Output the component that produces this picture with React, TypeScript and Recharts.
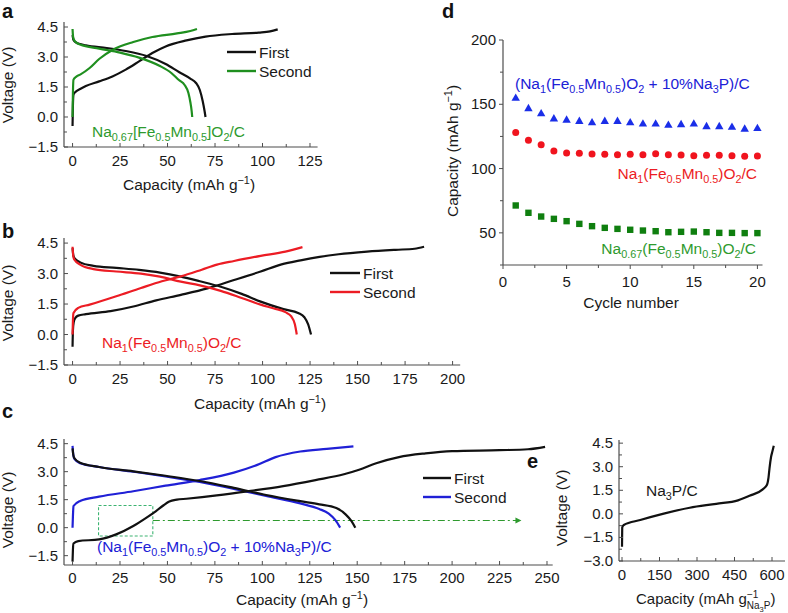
import React from 'react';
import { LineChart, Line, XAxis, YAxis, ReferenceArea } from 'recharts';

type Pt = [number, number];

// ---------- Panel a : Na0.67[Fe0.5Mn0.5]O2/C ----------
const A_FIRST_CHARGE: Pt[] = [[0, -0.45], [0.2, 0.6], [0.5, 1.12], [1.5, 1.25], [4, 1.4], [7, 1.55], [14, 1.78], [21, 2.03], [28, 2.37], [35, 2.78], [42, 3.2], [49, 3.53], [60, 3.83], [70, 4.02], [84, 4.15], [98, 4.22], [104, 4.28], [108, 4.38]];
const A_FIRST_DISCHARGE: Pt[] = [[0, 4.1], [0.5, 3.85], [2, 3.72], [4, 3.65], [7, 3.58], [18, 3.45], [28, 3.3], [39, 3.05], [49, 2.65], [56, 2.25], [62, 1.92], [65, 1.7], [67, 1.35], [68.5, 0.8], [69.5, 0.3], [70, 0]];
const A_SECOND_CHARGE: Pt[] = [[0, 0], [0.2, 1.2], [0.5, 1.87], [2, 2.02], [4, 2.12], [9, 2.45], [14, 2.9], [21, 3.35], [32, 3.75], [42, 4.0], [55, 4.18], [62, 4.3], [65.5, 4.4]];
const A_SECOND_DISCHARGE: Pt[] = [[0, 4.4], [0.3, 4.0], [0.8, 3.85], [2, 3.72], [4, 3.62], [14, 3.42], [25, 3.22], [35, 2.97], [46, 2.55], [52, 2.2], [56, 1.85], [59, 1.6], [61, 1.2], [62, 0.75], [62.7, 0.3], [63, 0]];

// ---------- Panel b : Na1(Fe0.5Mn0.5)O2/C ----------
const B_FIRST_CHARGE: Pt[] = [[0, -0.6], [0.2, 0.2], [0.6, 0.6], [1.5, 0.82], [3, 0.93], [7, 1.0], [20, 1.15], [32, 1.38], [44, 1.68], [57, 1.95], [71, 2.27], [85, 2.68], [99, 3.1], [110, 3.45], [120, 3.65], [130, 3.82], [140, 3.95], [155, 4.08], [170, 4.17], [180, 4.22], [185, 4.32]];
const B_FIRST_DISCHARGE: Pt[] = [[0, 4.25], [0.4, 3.9], [1, 3.76], [4, 3.55], [11, 3.38], [23, 3.28], [35, 3.18], [46, 3.05], [57, 2.85], [67, 2.62], [78, 2.35], [89, 2.0], [99, 1.62], [111, 1.25], [119, 1.05], [122, 0.85], [124, 0.5], [125.5, 0]];
const B_SECOND_CHARGE: Pt[] = [[0, 0], [0.2, 0.7], [0.5, 1.06], [3, 1.31], [9, 1.47], [23, 1.88], [36, 2.29], [47, 2.62], [57, 2.86], [68, 3.19], [76, 3.44], [85, 3.62], [99, 3.87], [112, 4.08], [121, 4.3]];
const B_SECOND_DISCHARGE: Pt[] = [[0, 4.32], [0.4, 3.85], [1, 3.68], [4, 3.44], [11, 3.22], [23, 3.1], [36, 3.0], [46, 2.85], [57, 2.6], [67, 2.42], [78, 2.15], [89, 1.8], [99, 1.47], [106, 1.28], [112, 1.1], [115, 0.9], [117, 0.5], [118, 0]];

// ---------- Panel c : (Na1(Fe0.5Mn0.5)O2 + 10%Na3P)/C ----------
const C_FIRST_CHARGE: Pt[] = [[0, -1.82], [0.2, -1.2], [0.5, -0.85], [3, -0.72], [14, -0.63], [23, -0.36], [32, 0.09], [39, 0.54], [44, 0.89], [48, 1.2], [51, 1.4], [55, 1.5], [60, 1.55], [76, 1.73], [93, 1.96], [111, 2.23], [128, 2.55], [143, 2.86], [151, 3.1], [160, 3.45], [172, 3.78], [186, 3.98], [200, 4.1], [225, 4.15], [240, 4.2], [249, 4.33]];
const C_FIRST_DISCHARGE: Pt[] = [[0, 4.25], [0.4, 3.9], [1, 3.72], [4, 3.48], [14, 3.25], [32, 3.02], [49, 2.78], [67, 2.5], [85, 2.13], [102, 1.75], [120, 1.42], [130, 1.25], [139, 1.05], [144, 0.7], [147, 0.35], [149, 0]];
const C_SECOND_CHARGE: Pt[] = [[0, 0], [0.2, 0.6], [0.5, 1.16], [4, 1.43], [14, 1.66], [32, 1.95], [49, 2.25], [67, 2.55], [85, 2.95], [97, 3.35], [107, 3.78], [120, 4.08], [134, 4.22], [148, 4.35]];
const C_SECOND_DISCHARGE: Pt[] = [[0, 4.38], [0.4, 3.9], [1, 3.68], [4, 3.45], [14, 3.25], [32, 3.0], [49, 2.75], [67, 2.45], [85, 2.08], [102, 1.7], [120, 1.3], [130, 1.0], [135, 0.75], [138.5, 0.4], [141, 0]];
const C_BOX_CAP: Pt = [13.7, 42.3];
const C_BOX_V: Pt = [-0.45, 1.19];
const C_ARROW: Pt[] = [[42.3, 0.38], [236, 0.38]];

// ---------- Panel d : cycling ----------
const D_CYCLES = [1, 2, 3, 4, 5, 6, 7, 8, 9, 10, 11, 12, 13, 14, 15, 16, 17, 18, 19, 20];
const D_NAP_MIX = [155, 147, 143, 139, 138, 137, 136, 137, 137, 136, 135, 135, 134, 134.5, 135, 133, 133, 132.5, 131, 131.5];
const D_NA1 = [128, 122, 118.6, 113.7, 112.1, 111.9, 111.4, 111.1, 110.8, 111.1, 110.8, 111.6, 110.8, 110.6, 110, 110.3, 110.3, 110, 109.5, 109.8];
const D_NA067 = [71.3, 65.6, 62.7, 60.9, 59.1, 57, 55.2, 53.9, 53.1, 52.4, 51.8, 51.3, 50.5, 50.8, 51, 50.5, 50, 50, 49.8, 49.8];

// ---------- Panel e : Na3P/C ----------
const E_NA3P: Pt[] = [[0, -2.1], [0.5, -1.4], [1, -0.86], [7, -0.71], [73, -0.39], [163, 0.0], [271, 0.39], [377, 0.64], [464, 0.86], [510, 1.15], [563, 1.56], [580, 1.85], [586, 2.3], [590, 2.9], [596, 3.6], [602, 4.0], [607, 4.33]];

// ---------- ticks ----------
const A_X_TICKS = [0, 12.5, 25, 37.5, 50, 62.5, 75, 87.5, 100, 112.5, 125];
const B_X_TICKS = [0, 12.5, 25, 37.5, 50, 62.5, 75, 87.5, 100, 112.5, 125, 137.5, 150, 162.5, 175, 187.5, 200];
const C_X_TICKS = [0, 12.5, 25, 37.5, 50, 62.5, 75, 87.5, 100, 112.5, 125, 137.5, 150, 162.5, 175, 187.5, 200, 212.5, 225, 237.5, 250];
const CAP_MAJOR = [0, 25, 50, 75, 100, 125, 150, 175, 200, 225, 250];
const V_TICKS = [-1.5, -0.75, 0, 0.75, 1.5, 2.25, 3, 3.75, 4.5];
const E_V_TICKS = [-3, -2.25, -1.5, -0.75, 0, 0.75, 1.5, 2.25, 3, 3.75, 4.5];
const V_MAJOR = [-3, -1.5, 0, 1.5, 3, 4.5];
const E_X_TICKS = [0, 75, 150, 225, 300, 375, 450, 525, 600];
const E_X_MAJOR = [0, 150, 300, 450, 600];
const D_X_TICKS = [0, 2.5, 5, 7.5, 10, 12.5, 15, 17.5, 20];
const D_X_MAJOR = [0, 5, 10, 15, 20];
const D_Y_TICKS = [25, 50, 75, 100, 125, 150, 175, 200];
const D_Y_MAJOR = [50, 100, 150, 200];

// ---------- styles ----------
const FONT = "'Liberation Sans', Arial, Helvetica, sans-serif";
const AX = '#4d4d4d';
const TXT = '#1a1a1a';
const BLACK = '#111111';
const GREEN = '#1f8f1f';
const GREEN_T = '#2e9a2e';
const RED = '#ec1c24';
const BLUE = '#2020d6';
const D_BLUE = '#1a2ee8';
const D_RED = '#f0141e';
const D_GREEN = '#0f7f0f';
const LW = 2.2;

const YW = 44;
const MT = 8;
const MR = 8;
const XH = 30;

const xy = (pts: Pt[]) => pts.map(([x, y]) => ({ x, y }));
const isIn = (arr: number[], v: number) => arr.some((m) => Math.abs(m - v) < 1e-6);
const fmtV = (v: number) => (v < 0 ? '\u2212' : '') + Math.abs(v).toFixed(1);
const fmtI = (v: number) => String(v);

function makeYTick(major: number[], fmt: (v: number) => string, inward: boolean) {
  return (props: any) => {
    const { x, y, payload } = props;
    const v = Number(payload.value);
    const mj = isIn(major, v);
    const len = mj ? 4 : 3;
    return (
      <g>
        <line x1={x} y1={y} x2={inward ? x + len : x - len} y2={y} stroke={AX} strokeWidth={1} />
        {mj ? (
          <text x={x - (inward ? 6 : 7)} y={y + 5} textAnchor="end" fontSize={15} fill={TXT} fontFamily={FONT}>
            {fmt(v)}
          </text>
        ) : null}
      </g>
    );
  };
}

function makeXTick(major: number[], fmt: (v: number) => string, inward: boolean, off: number) {
  return (props: any) => {
    const { x, y, payload } = props;
    const v = Number(payload.value);
    const mj = isIn(major, v);
    const len = mj ? 4 : 3;
    return (
      <g>
        <line x1={x} y1={y} x2={x} y2={inward ? y - len : y + len} stroke={AX} strokeWidth={1} />
        {mj ? (
          <text x={x} y={y + off} textAnchor="middle" fontSize={15} fill={TXT} fontFamily={FONT}>
            {fmt(v)}
          </text>
        ) : null}
      </g>
    );
  };
}

function Frame({ l, t, w, h, children }: { l: number; t: number; w: number; h: number; children: any }) {
  return (
    <div style={{ position: 'absolute', left: l - YW, top: t - MT, width: YW + w + MR, height: MT + h + XH }}>
      {children}
    </div>
  );
}

const chartProps = (w: number, h: number) => ({
  width: YW + w + MR,
  height: MT + h + XH,
  margin: { top: MT, right: MR, left: 0, bottom: 0 },
});

function curve(pts: Pt[], color: string, key: string) {
  return (
    <Line
      key={key}
      data={xy(pts)}
      dataKey="y"
      type="monotone"
      stroke={color}
      strokeWidth={LW}
      dot={false}
      activeDot={false}
      isAnimationActive={false}
    />
  );
}

function capAxes(domainX: [number, number], ticksX: number[], domainY: [number, number], ticksY: number[], off: number) {
  return [
    <XAxis
      key="x"
      type="number"
      dataKey="x"
      domain={domainX}
      ticks={ticksX}
      interval={0}
      allowDataOverflow
      tickLine={false}
      tickSize={0}
      tickMargin={0}
      height={XH}
      axisLine={{ stroke: AX, strokeWidth: 1.2 }}
      tick={makeXTick(CAP_MAJOR, fmtI, true, off)}
    />,
    <YAxis
      key="y"
      type="number"
      domain={domainY}
      ticks={ticksY}
      interval={0}
      allowDataOverflow
      tickLine={false}
      tickSize={0}
      tickMargin={0}
      width={YW}
      axisLine={{ stroke: AX, strokeWidth: 1.2 }}
      tick={makeYTick(V_MAJOR, fmtV, true)}
    />,
  ];
}

// Chemical-formula text: _{..} subscript, ^{..} superscript
function Chem({ s, x, y, fill, anchor = 'start', size = 15.5, rotate = false }: { s: string; x: number; y: number; fill: string; anchor?: string; size?: number; rotate?: boolean }) {
  const parts: { t: string; k: 'n' | 'sub' | 'sup' }[] = [];
  const re = /([_^])\{([^}]*)\}/g;
  let last = 0;
  let m: RegExpExecArray | null;
  while ((m = re.exec(s)) !== null) {
    if (m.index > last) parts.push({ t: s.slice(last, m.index), k: 'n' });
    parts.push({ t: m[2], k: m[1] === '_' ? 'sub' : 'sup' });
    last = re.lastIndex;
  }
  if (last < s.length) parts.push({ t: s.slice(last), k: 'n' });
  let shift = 0;
  const spans = parts.map((p, i) => {
    const target = p.k === 'sub' ? size * 0.28 : p.k === 'sup' ? -size * 0.4 : 0;
    const dy = target - shift;
    shift = target;
    return (
      <tspan key={i} dy={dy} fontSize={p.k === 'n' ? size : size * 0.7}>
        {p.t}
      </tspan>
    );
  });
  return (
    <text
      x={x}
      y={y}
      fill={fill}
      fontSize={size}
      textAnchor={anchor as any}
      fontFamily={FONT}
      transform={rotate ? `rotate(-90 ${x} ${y})` : undefined}
    >
      {spans}
    </text>
  );
}

const triDot = (p: any) => (
  <polygon key={`t${p.index}`} points={`${p.cx},${p.cy - 4.4} ${p.cx + 4.2},${p.cy + 3} ${p.cx - 4.2},${p.cy + 3}`} fill={D_BLUE} />
);
const circDot = (p: any) => <circle key={`c${p.index}`} cx={p.cx} cy={p.cy} r={3.5} fill={D_RED} />;
const sqDot = (p: any) => <rect key={`s${p.index}`} x={p.cx - 3.2} y={p.cy - 3.2} width={6.4} height={6.4} fill={D_GREEN} />;
const arrowDot = (p: any) =>
  p.index === C_ARROW.length - 1 ? (
    <polygon key={`a${p.index}`} points={`${p.cx + 1},${p.cy} ${p.cx - 5},${p.cy - 3} ${p.cx - 5},${p.cy + 3}`} fill={GREEN_T} />
  ) : (
    <g key={`a${p.index}`} />
  );

export default function App() {
  const dRows = D_CYCLES.map((c, i) => ({ cycle: c, mix: D_NAP_MIX[i], na1: D_NA1[i], na067: D_NA067[i] }));

  // plot rectangles (page coords)
  const A = { l: 64, t: 22, w: 253.6, h: 125 };
  const B = { l: 64, t: 238, w: 396.2, h: 127 };
  const C = { l: 64, t: 439, w: 488.7, h: 126 };
  const D = { l: 502.5, t: 40, w: 259.5, h: 225 };
  const E = { l: 619, t: 440, w: 166, h: 121 };

  return (
    <div style={{ position: 'absolute', left: 0, top: 0, width: 788, height: 613, background: '#ffffff', overflow: 'hidden', fontFamily: FONT }}>
      {/* a */}
      <Frame {...A}>
        <LineChart {...chartProps(A.w, A.h)}>
          {capAxes([-4.5, 129], A_X_TICKS, [-1.5, 4.75], V_TICKS, 19)}
          {curve(A_FIRST_CHARGE, BLACK, 'a1c')}
          {curve(A_FIRST_DISCHARGE, BLACK, 'a1d')}
          {curve(A_SECOND_CHARGE, GREEN, 'a2c')}
          {curve(A_SECOND_DISCHARGE, GREEN, 'a2d')}
        </LineChart>
      </Frame>

      {/* b */}
      <Frame {...B}>
        <LineChart {...chartProps(B.w, B.h)}>
          {capAxes([-4.5, 204], B_X_TICKS, [-1.5, 4.75], V_TICKS, 19)}
          {curve(B_FIRST_CHARGE, BLACK, 'b1c')}
          {curve(B_FIRST_DISCHARGE, BLACK, 'b1d')}
          {curve(B_SECOND_CHARGE, RED, 'b2c')}
          {curve(B_SECOND_DISCHARGE, RED, 'b2d')}
        </LineChart>
      </Frame>

      {/* c */}
      <Frame {...C}>
        <LineChart {...chartProps(C.w, C.h)}>
          {capAxes([-4.5, 253], C_X_TICKS, [-2, 4.75], V_TICKS, 18.5)}
          <ReferenceArea
            x1={C_BOX_CAP[0]}
            x2={C_BOX_CAP[1]}
            y1={C_BOX_V[0]}
            y2={C_BOX_V[1]}
            fill="none"
            fillOpacity={0}
            stroke="#3cb371"
            strokeWidth={1.1}
            strokeDasharray="3 2"
            ifOverflow="visible"
          />
          <Line
            data={xy(C_ARROW)}
            dataKey="y"
            type="linear"
            stroke={GREEN_T}
            strokeWidth={1.1}
            strokeDasharray="7 3 2 3"
            dot={arrowDot}
            activeDot={false}
            isAnimationActive={false}
          />
          {curve(C_SECOND_CHARGE, BLUE, 'c2c')}
          {curve(C_SECOND_DISCHARGE, BLUE, 'c2d')}
          {curve(C_FIRST_CHARGE, BLACK, 'c1c')}
          {curve(C_FIRST_DISCHARGE, BLACK, 'c1d')}
        </LineChart>
      </Frame>

      {/* d */}
      <Frame {...D}>
        <LineChart {...chartProps(D.w, D.h)} data={dRows}>
          <XAxis
            type="number"
            dataKey="cycle"
            domain={[0, 20.4]}
            ticks={D_X_TICKS}
            interval={0}
            allowDataOverflow
            tickLine={false}
            tickSize={0}
            tickMargin={0}
            height={XH}
            axisLine={{ stroke: AX, strokeWidth: 1.2 }}
            tick={makeXTick(D_X_MAJOR, fmtI, false, 22)}
          />
          <YAxis
            type="number"
            domain={[25, 200]}
            ticks={D_Y_TICKS}
            interval={0}
            allowDataOverflow
            tickLine={false}
            tickSize={0}
            tickMargin={0}
            width={YW}
            axisLine={{ stroke: AX, strokeWidth: 1.2 }}
            tick={makeYTick(D_Y_MAJOR, fmtI, false)}
          />
          <Line dataKey="mix" stroke="none" dot={triDot} activeDot={false} isAnimationActive={false} />
          <Line dataKey="na1" stroke="none" dot={circDot} activeDot={false} isAnimationActive={false} />
          <Line dataKey="na067" stroke="none" dot={sqDot} activeDot={false} isAnimationActive={false} />
        </LineChart>
      </Frame>

      {/* e */}
      <Frame {...E}>
        <LineChart {...chartProps(E.w, E.h)}>
          <XAxis
            type="number"
            dataKey="x"
            domain={[-12, 652]}
            ticks={E_X_TICKS}
            interval={0}
            allowDataOverflow
            tickLine={false}
            tickSize={0}
            tickMargin={0}
            height={XH}
            axisLine={{ stroke: AX, strokeWidth: 1.2 }}
            tick={makeXTick(E_X_MAJOR, fmtI, true, 18.5)}
          />
          <YAxis
            type="number"
            domain={[-3, 4.7]}
            ticks={E_V_TICKS}
            interval={0}
            allowDataOverflow
            tickLine={false}
            tickSize={0}
            tickMargin={0}
            width={YW}
            axisLine={{ stroke: AX, strokeWidth: 1.2 }}
            tick={makeYTick(V_MAJOR, fmtV, true)}
          />
          {curve(E_NA3P, BLACK, 'e1')}
        </LineChart>
      </Frame>

      {/* text overlay */}
      <svg width={788} height={613} style={{ position: 'absolute', left: 0, top: 0, pointerEvents: 'none' }}>
        {/* panel letters */}
        <g fontFamily={FONT} fontWeight="bold" fontSize={20} fill="#111">
          <text x={2} y={18}>a</text>
          <text x={2} y={238}>b</text>
          <text x={2} y={418}>c</text>
          <text x={442} y={18}>d</text>
          <text x={527} y={468}>e</text>
        </g>

        {/* axis titles */}
        <Chem s="Capacity (mAh g^{−1})" x={189} y={190} fill={TXT} anchor="middle" size={15.5} />
        <Chem s="Capacity (mAh g^{−1})" x={260} y={409} fill={TXT} anchor="middle" size={15.5} />
        <Chem s="Capacity (mAh g^{−1})" x={302} y={605} fill={TXT} anchor="middle" size={15.5} />
        <Chem s="Voltage (V)" x={13} y={85} fill={TXT} anchor="middle" size={15.5} rotate />
        <Chem s="Voltage (V)" x={13} y={303} fill={TXT} anchor="middle" size={15.5} rotate />
        <Chem s="Voltage (V)" x={13} y={510} fill={TXT} anchor="middle" size={15.5} rotate />
        <Chem s="Voltage (V)" x={567} y={508} fill={TXT} anchor="middle" size={15.5} rotate />
        <Chem s="Capacity (mAh g^{−1})" x={458} y={151} fill={TXT} anchor="middle" size={15.5} rotate />
        <Chem s="Cycle number" x={631} y={308} fill={TXT} anchor="middle" size={15.5} />
        <text x={636} y={604} fontSize={15} fill={TXT} fontFamily={FONT}>
          Capacity (mAh g
          <tspan dy={-6.5} fontSize={10}>−1</tspan>
          <tspan dx={-11.5} dy={11.5} fontSize={10}>Na</tspan>
          <tspan dy={2.5} fontSize={7.5}>3</tspan>
          <tspan dy={-2.5} fontSize={10}>P</tspan>
          <tspan dy={-5}>)</tspan>
        </text>

        {/* legends */}
        <line x1={227} x2={256} y1={52} y2={52} stroke={BLACK} strokeWidth={2.4} />
        <line x1={227} x2={256} y1={71} y2={71} stroke={GREEN} strokeWidth={2.4} />
        <text x={259} y={57.5} fontSize={15.5} fill={TXT} fontFamily={FONT}>First</text>
        <text x={259} y={76.5} fontSize={15.5} fill={TXT} fontFamily={FONT}>Second</text>

        <line x1={330} x2={360} y1={273} y2={273} stroke={BLACK} strokeWidth={2.4} />
        <line x1={330} x2={360} y1={292} y2={292} stroke={RED} strokeWidth={2.4} />
        <text x={363} y={278.5} fontSize={15.5} fill={TXT} fontFamily={FONT}>First</text>
        <text x={363} y={297.5} fontSize={15.5} fill={TXT} fontFamily={FONT}>Second</text>

        <line x1={423} x2={451} y1={478} y2={478} stroke={BLACK} strokeWidth={2.4} />
        <line x1={423} x2={451} y1={497} y2={497} stroke={BLUE} strokeWidth={2.4} />
        <text x={454} y={483.5} fontSize={15.5} fill={TXT} fontFamily={FONT}>First</text>
        <text x={454} y={502.5} fontSize={15.5} fill={TXT} fontFamily={FONT}>Second</text>

        {/* annotations */}
        <Chem s="Na_{0.67}[Fe_{0.5}Mn_{0.5}]O_{2}/C" x={92} y={137} fill={GREEN_T} />
        <Chem s="Na_{1}(Fe_{0.5}Mn_{0.5})O_{2}/C" x={102} y={348} fill={RED} />
        <Chem s="(Na_{1}(Fe_{0.5}Mn_{0.5})O_{2} + 10%Na_{3}P)/C" x={97} y={552} fill={BLUE} />
        <Chem s="(Na_{1}(Fe_{0.5}Mn_{0.5})O_{2} + 10%Na_{3}P)/C" x={515} y={89} fill={BLUE} />
        <Chem s="Na_{1}(Fe_{0.5}Mn_{0.5})O_{2}/C" x={757} y={179} fill={RED} anchor="end" />
        <Chem s="Na_{0.67}(Fe_{0.5}Mn_{0.5})O_{2}/C" x={756} y={254} fill={GREEN_T} anchor="end" />
        <Chem s="Na_{3}P/C" x={646} y={496} fill={TXT} />
      </svg>
    </div>
  );
}
